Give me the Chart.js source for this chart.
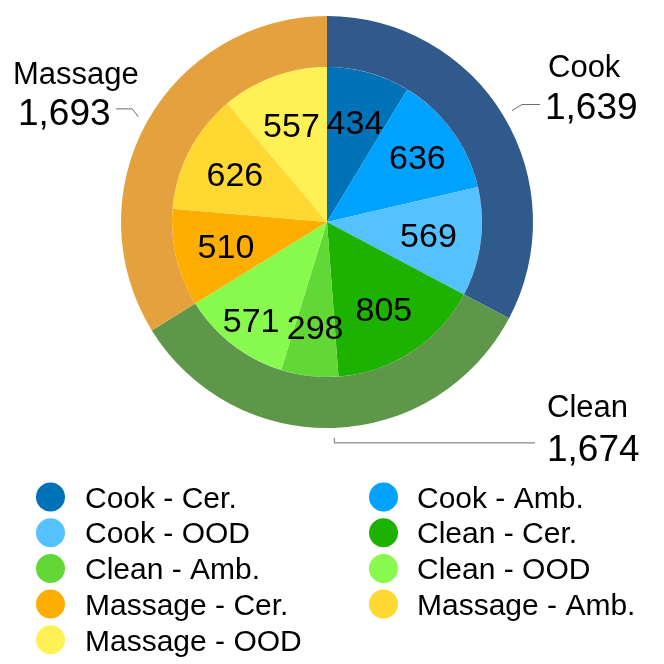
<!DOCTYPE html>
<html>
<head>
<meta charset="utf-8">
<script src="https://cdn.jsdelivr.net/npm/chart.js@4/dist/chart.umd.min.js"></script>
<style>
html,body{margin:0;padding:0;background:#fff;}
#wrap{width:664px;height:664px;position:relative;}
</style>
</head>
<body>
<div id="wrap"><canvas id="c" width="664" height="664"></canvas></div>
<script>
// ---- data ----
const groupLabels = ['Cook', 'Clean', 'Massage'];
const groupValues = [1639, 1674, 1693];
const subLabels = ['Cook - Cer.', 'Cook - Amb.', 'Cook - OOD',
                   'Clean - Cer.', 'Clean - Amb.', 'Clean - OOD',
                   'Massage - Cer.', 'Massage - Amb.', 'Massage - OOD'];
const subValues = [434, 636, 569, 805, 298, 571, 510, 626, 557];

// ---- styles ----
const groupColors = ['#30598c', '#5e9749', '#e5a13d'];
const subColors = ['#0072b8', '#00a2ff', '#56c1ff',
                   '#1db100', '#61d836', '#88fa4e',
                   '#feae00', '#ffd932', '#fff056'];
const FONT = '"Liberation Sans", Arial, Helvetica, sans-serif';

const labelPlugin = {
  id: 'labels',
  afterDatasetsDraw(chart) {
    const ctx = chart.ctx;
    ctx.save();
    // inner slice value labels
    const innerMeta = chart.getDatasetMeta(1);
    const rf = [0.67, 0.72, 0.66, 0.67, 0.68, 0.8, 0.67, 0.67, 0.67];
    const fs = 34;
    ctx.fillStyle = '#000';
    ctx.textAlign = 'center';
    ctx.textBaseline = 'alphabetic';
    ctx.font = fs + 'px ' + FONT;
    innerMeta.data.forEach((arc, i) => {
      const mid = (arc.startAngle + arc.endAngle) / 2;
      const r = arc.outerRadius * rf[i];
      const x = arc.x + Math.cos(mid) * r;
      const y = arc.y + Math.sin(mid) * r;
      ctx.fillText(String(subValues[i]), x, y + 0.358 * fs);
    });
    // outer callouts
    const outerMeta = chart.getDatasetMeta(0);
    const layout = [
      {bend: [10, -6], endX: 540, nameX: 548, nameY: 77, valX: 545, valY: 119, align: 'left'},
      {bend: [0, 5], endX: 535, nameX: 547, nameY: 417, valX: 547, valY: 461, align: 'left'},
      {bend: [-6, -8], endX: 116, nameX: 13, nameY: 84, valX: 18, valY: 125, align: 'left'}
    ];
    outerMeta.data.forEach((arc, i) => {
      const mid = (arc.startAngle + arc.endAngle) / 2;
      const r = arc.outerRadius + 10;
      const sx = arc.x + Math.cos(mid) * r;
      const sy = arc.y + Math.sin(mid) * r;
      const L = layout[i];
      const bx = sx + L.bend[0], by = sy + L.bend[1];
      ctx.strokeStyle = '#6b6b6b';
      ctx.lineWidth = 1;
      ctx.beginPath();
      ctx.moveTo(sx, sy);
      ctx.lineTo(bx, by);
      ctx.lineTo(L.endX, by);
      ctx.stroke();
      ctx.textAlign = L.align;
      ctx.font = '31px ' + FONT;
      ctx.fillText(groupLabels[i], L.nameX, L.nameY);
      ctx.font = '37px ' + FONT;
      ctx.fillText(groupValues[i].toLocaleString('en-US'), L.valX, L.valY);
    });
    // legend
    ctx.font = '30px ' + FONT;
    ctx.textAlign = 'left';
    subLabels.forEach((lab, i) => {
      const row = Math.floor(i / 2), col = i % 2;
      const cx = col === 0 ? 50.5 : 383.5;
      const cy = 497 + row * 35.7;
      ctx.fillStyle = subColors[i];
      ctx.beginPath();
      ctx.arc(cx, cy, 14.5, 0, Math.PI * 2);
      ctx.fill();
      ctx.fillStyle = '#000';
      ctx.fillText(lab, col === 0 ? 85 : 417, cy + 0.358 * 30);
    });
    ctx.restore();
  }
};

new Chart(document.getElementById('c'), {
  type: 'pie',
  data: {
    labels: subLabels,
    datasets: [
      {data: groupValues, backgroundColor: groupColors, borderWidth: 0, weight: 51, hoverOffset: 0},
      {data: subValues, backgroundColor: subColors, borderWidth: 0, weight: 155, hoverOffset: 0}
    ]
  },
  options: {
    responsive: false,
    animation: false,
    events: [],
    layout: {padding: {left: 121, top: 16, right: 131, bottom: 236}},
    plugins: {legend: {display: false}, tooltip: {enabled: false}}
  },
  plugins: [labelPlugin]
});
</script>
</body>
</html>
